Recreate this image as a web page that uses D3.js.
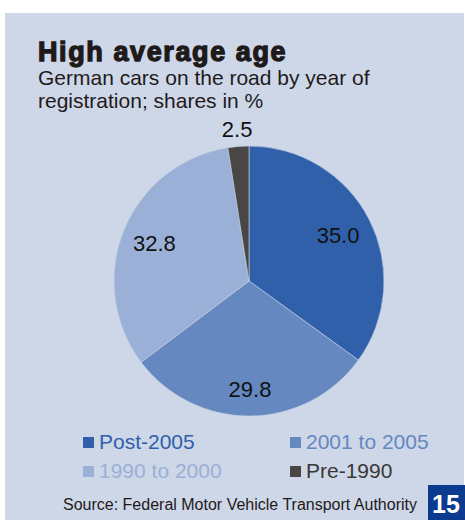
<!DOCTYPE html>
<html><head><meta charset="utf-8">
<script src="https://cdn.jsdelivr.net/npm/d3@7"></script>
<style>html,body{margin:0;padding:0;background:#fff;}svg{display:block;font-family:"Liberation Sans",Arial,sans-serif;}</style>
</head><body>
<script>
const categories = ["Post-2005", "2001 to 2005", "1990 to 2000", "Pre-1990"];
const values = [35.0, 29.8, 32.8, 2.5];
const labels = ["35.0", "29.8", "32.8", "2.5"];
const colors = ["#3160aa", "#6588c1", "#9bb0d7", "#4a4645"];
const legendText = ["#3160aa", "#6588c1", "#9bb0d7", "#3a3636"];

const W = 465, H = 520;
const svg = d3.select("body").append("svg").attr("width", W).attr("height", H);
svg.append("rect").attr("x", 5).attr("y", 13).attr("width", 459).attr("height", H - 13).attr("fill", "#cdd7e8");

svg.append("text").attr("x", 38).attr("y", 61).attr("font-size", 27).attr("font-weight", "bold")
  .attr("letter-spacing", 1.6)
  .attr("fill", "#1f1a1a").attr("stroke", "#1f1a1a").attr("stroke-width", 1.3).text("High average age");
svg.append("text").attr("x", 38).attr("y", 85).attr("font-size", 21).attr("fill", "#1f1a1a").text("German cars on the road by year of");
svg.append("text").attr("x", 38).attr("y", 108).attr("font-size", 21).attr("fill", "#1f1a1a").text("registration; shares in %");

const cx = 249, cy = 281, R = 135;
const pie = d3.pie().sort(null).value(d => d)(values);
const arc = d3.arc().innerRadius(0).outerRadius(R);
const g = svg.append("g").attr("transform", `translate(${cx},${cy})`);
g.selectAll("path").data(pie).join("path").attr("d", arc)
  .attr("fill", (d, i) => colors[i]).attr("stroke", "#c5d0e4").attr("stroke-width", 0.6);

const lr = [100, 108, 102, 152];
g.selectAll("text.lab").data(pie).join("text").attr("class", "lab")
  .attr("transform", (d, i) => {
    const a = (d.startAngle + d.endAngle) / 2;
    return `translate(${Math.sin(a) * lr[i]},${-Math.cos(a) * lr[i]})`;
  })
  .attr("text-anchor", "middle").attr("dy", "0.36em").attr("font-size", 22).attr("fill", "#111")
  .text((d, i) => labels[i]);

const legPos = [[83, 437], [290, 437], [83, 466], [290, 466]];
const lg = svg.selectAll("g.leg").data(categories).join("g").attr("class", "leg")
  .attr("transform", (d, i) => `translate(${legPos[i][0]},${legPos[i][1]})`);
lg.append("rect").attr("width", 11).attr("height", 11).attr("fill", (d, i) => colors[i]);
lg.append("text").attr("x", 16).attr("y", 11.5).attr("font-size", 21).attr("fill", (d, i) => legendText[i]).text(d => d);

svg.append("text").attr("x", 63).attr("y", 510).attr("font-size", 16).attr("fill", "#1f1a1a")
  .text("Source: Federal Motor Vehicle Transport Authority");
svg.append("rect").attr("x", 428).attr("y", 485).attr("width", 37).attr("height", 35).attr("fill", "#0b3a8e");
svg.append("text").attr("x", 446).attr("y", 513).attr("text-anchor", "middle").attr("font-size", 25)
  .attr("font-weight", "bold").attr("fill", "#fff").text("15");
</script>
</body></html>
